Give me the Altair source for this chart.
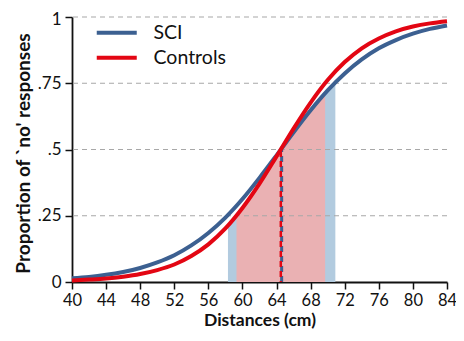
import altair as alt
import pandas as pd

# Psychometric curves (proportion of 'no' responses)
dist = [40, 42, 44, 46, 48, 50, 52, 54, 56, 58, 60, 62, 64, 66, 68, 70, 72, 74, 76, 78, 80, 82, 84]
sci = [0.014, 0.019, 0.027, 0.038, 0.053, 0.074, 0.101, 0.138, 0.185, 0.243, 0.313, 0.393, 0.478,
       0.565, 0.648, 0.723, 0.787, 0.840, 0.882, 0.913, 0.937, 0.955, 0.968]
controls = [0.006, 0.009, 0.013, 0.020, 0.030, 0.045, 0.066, 0.098, 0.142, 0.202, 0.279, 0.371, 0.474,
            0.579, 0.677, 0.762, 0.830, 0.882, 0.919, 0.946, 0.964, 0.976, 0.984]

# Shaded JND ranges (0.25 .. 0.75)
sci_shade_x = [58.3, 59.3, 60, 62, 64, 64.5, 66, 68, 69.7, 70, 70.9]
sci_shade_y = [0.212, 0.25, 0.279, 0.371, 0.474, 0.5, 0.565, 0.648, 0.712, 0.723, 0.75]
ctrl_shade_x = [59.3, 60, 62, 64, 64.5, 66, 68, 69.7]
ctrl_shade_y = [0.25, 0.279, 0.371, 0.474, 0.5, 0.565, 0.648, 0.712]

# PSE
pse_sci = 64.6
pse_ctrl = 64.5

y_ticks = [0, 0.25, 0.5, 0.75, 1]
y_labels = ["0", ".25", ".5", ".75", "1"]
x_ticks = [40, 44, 48, 52, 56, 60, 64, 68, 72, 76, 80, 84]

series = ["SCI", "Controls"]
colors = ["#3C6091", "#E30613"]

FONT = "Lato"

lines_df = pd.DataFrame({
    "x": dist * 2,
    "y": sci + controls,
    "group": ["SCI"] * len(dist) + ["Controls"] * len(dist),
})
sci_shade = pd.DataFrame({"x": sci_shade_x, "y": sci_shade_y})
ctrl_shade = pd.DataFrame({"x": ctrl_shade_x, "y": ctrl_shade_y})
grid_df = pd.DataFrame({"y": y_ticks[1:]})
pse_df = pd.DataFrame({"x": [pse_sci, pse_ctrl], "y": [0, 0], "y2": [0.5, 0.5],
                       "group": ["SCI", "Controls"]})

label_expr = " : ".join(
    [f"datum.value == {v} ? '{l}'" for v, l in zip(y_ticks, y_labels)]
) + " : ''"

xscale = alt.Scale(domain=[40, 84], nice=False)
yscale = alt.Scale(domain=[0, 1], nice=False)

xaxis = alt.Axis(values=x_ticks, title="Distances (cm)", grid=False,
                 labelFontSize=16.5, titleFontSize=17.5, titleFontWeight="bold",
                 labelFont=FONT, titleFont=FONT, labelColor="#111", titleColor="#111",
                 domainColor="#111", domainWidth=1.8, tickColor="#111", tickWidth=1.5,
                 tickSize=7, labelPadding=3, titlePadding=3,
                 labelOverlap=False, labelFlush=False)
yaxis = alt.Axis(values=y_ticks, labelExpr=label_expr, title="Proportion of `no' responses",
                 grid=False, labelFontSize=17, titleFontSize=19, titleFontWeight="bold",
                 labelFont=FONT, titleFont=FONT, labelColor="#111", titleColor="#111",
                 domainColor="#111", domainWidth=1.8, tickColor="#111", tickWidth=1.5,
                 tickSize=7, labelPadding=4, titlePadding=4, titleY=136,
                 labelOffset={"condition": {"test": "datum.value == 1", "value": 2}, "value": 0},
                 labelOverlap=False, labelFlush=False)

X = alt.X("x:Q", scale=xscale, axis=xaxis)
Y = alt.Y("y:Q", scale=yscale, axis=yaxis)

sci_area = alt.Chart(sci_shade).mark_area(color="#B2CBDF", interpolate="monotone").encode(
    x=X, y=Y)
ctrl_area = alt.Chart(ctrl_shade).mark_area(color="#EAB1B3", interpolate="monotone").encode(
    x=X, y=Y)

grid = alt.Chart(grid_df).mark_rule(color="#A8A8A8", strokeDash=[5, 4], strokeWidth=1.2).encode(
    y=Y)

pse_blue = alt.Chart(pse_df[pse_df.group == "SCI"]).mark_rule(
    color=colors[0], strokeWidth=3, strokeDash=[6, 4]).encode(x=X, y=Y, y2="y2:Q")
pse_red = alt.Chart(pse_df[pse_df.group == "Controls"]).mark_rule(
    color=colors[1], strokeWidth=2.5, strokeDash=[6, 4], strokeDashOffset=5).encode(
    x=X, y=Y, y2="y2:Q")

curves = alt.Chart(lines_df).mark_line(strokeWidth=4, interpolate="monotone").encode(
    x=X, y=Y,
    color=alt.Color("group:N", scale=alt.Scale(domain=series, range=colors),
                    legend=alt.Legend(title=None, orient="none", legendX=35, legendY=6,
                                      symbolType="M-4,0H4", symbolSize=100,
                                      symbolStrokeWidth=4, labelFontSize=19.5, labelFont=FONT,
                                      labelColor="#111", labelOffset=27, rowPadding=4)),
    detail="group:N",
)

chart = alt.layer(sci_area, ctrl_area, grid, pse_blue, pse_red, curves).properties(
    width=375, height=265,
    autosize=alt.AutoSizeParams(type="none"),
    padding={"left": 64, "top": 9, "right": 9, "bottom": 51},
).configure_view(stroke=None).configure_axis(labelOverlap=False, labelFlush=False)

chart.save("out.html", embed_options={"renderer": "svg", "actions": False})
